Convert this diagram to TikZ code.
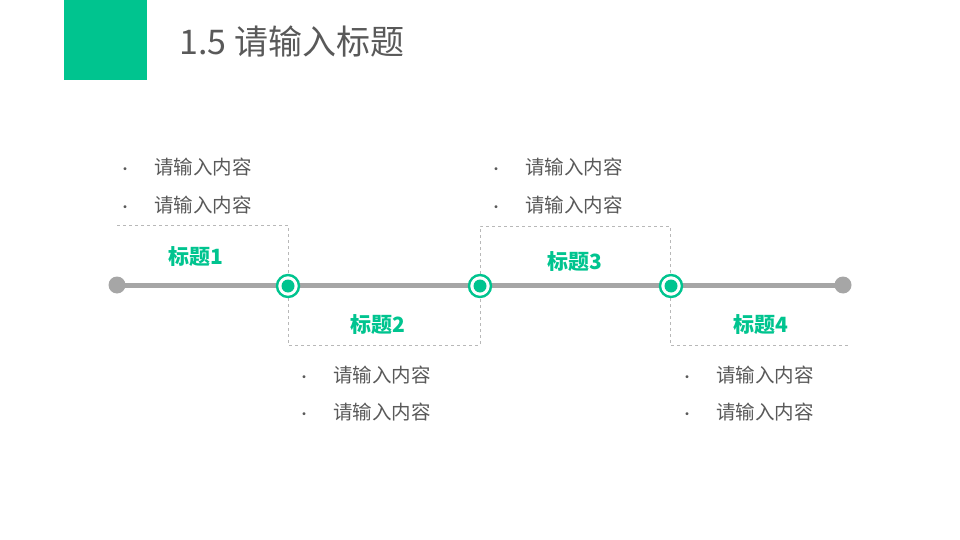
\documentclass[tikz,border=0pt]{standalone}
\usepackage{fontspec}
\setmainfont{Noto Sans CJK SC}
\usetikzlibrary{calc}
\definecolor{vert}{RGB}{0,196,143}
\definecolor{texte}{RGB}{89,89,89}
\definecolor{gris}{RGB}{166,166,166}
\begin{document}
\begin{tikzpicture}[x=1pt,y=-1pt]
%
% Styles
%
\tikzset{every node/.style={text=texte, inner sep=0pt}};%
\tikzset{cadre/.style={draw=gris!80, dashed, line width=0.6pt}};%
\tikzset{titre/.style={text=vert, font=\fontsize{21}{24}\selectfont\bfseries}};%
\tikzset{puce/.style={anchor=west, font=\fontsize{19.5}{22}\selectfont}};%
\tikzset{etape/.pic={\filldraw[white, draw=vert, line width=2.4pt] (0,0) circle[radius=11];
    \fill[vert] (0,0) circle[radius=6.5];}};%

\useasboundingbox (0,0) rectangle (960,540);%
\fill[vert] (64,0) rectangle (147,80);%
\node[anchor=west, font=\fontsize{34}{38}\selectfont] (entete) at (179,42) {1.5 请输入标题};%

%
% Dashed frames
%
\draw[cadre] (117,225) -- (288,225) -- (288,286);%
\draw[cadre] (288,286) -- (288,345) -- (480,345) -- (480,286);%
\draw[cadre] (480,286) -- (480,226) -- (670,226) -- (670,286);%
\draw[cadre] (670,286) -- (670,345) -- (850,345);%

%
% Time line
%
\coordinate (debut) at (117,285);%
\coordinate (fin) at (843,285);%
\draw[gris, line width=5pt] (debut) -- (fin);%
\fill[gris] (debut) circle[radius=8.5];%
\fill[gris] (fin) circle[radius=8.5];%
\foreach \x in {288,480,671}
    \pic at (\x,286) {etape};%

\node[titre] (t1) at (196,257) {标题1};%
\node[titre] (t2) at (378,325) {标题2};%
\node[titre] (t3) at (575,262) {标题3};%
\node[titre] (t4) at (761,325) {标题4};%

\foreach \x/\y in {118/167, 118/205, 489/167, 489/205, 297/375, 297/412, 680/375, 680/412}
{
    \node[puce] at (\x,\y) {\fontsize{14}{16}\selectfont•\hspace{22pt}\fontsize{19.5}{22}\selectfont 请输入内容};%
}
\end{tikzpicture}
\end{document}
